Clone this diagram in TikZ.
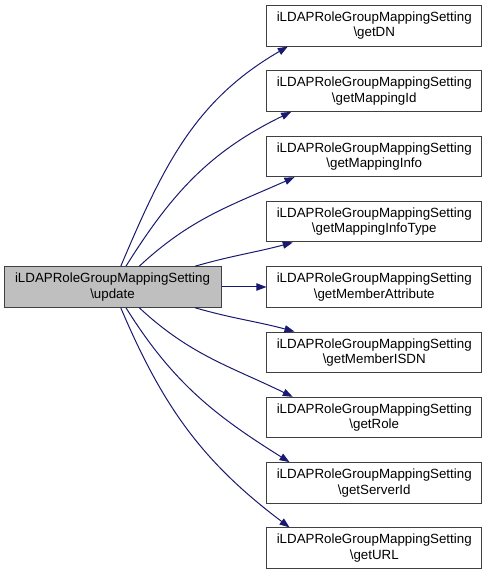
\documentclass[tikz,border=0pt]{standalone}
\usepackage{fontspec}
\setmainfont{Liberation Sans}
\usetikzlibrary{arrows.meta}
\definecolor{edgeblue}{HTML}{191970}
\definecolor{boxline}{HTML}{404040}
\definecolor{boxfill}{HTML}{BFBFBF}

\begin{document}
\begin{tikzpicture}[x=0.75pt, y=0.75pt, line width=0.75pt,
  fn/.style={draw=boxline, fill=white, minimum width=160.9pt, minimum height=30.4pt,
    inner sep=0pt, align=center, font=\fontsize{10}{11.5}\selectfont},
  call/.style={draw=edgeblue, -{Triangle[length=7.5pt,width=5.5pt,fill=edgeblue]}}]
\useasboundingbox (0,0) rectangle (488,575);
% caller
\node[fn, fill=boxfill, minimum width=162.75pt] (upd) at (112.5,288) {iLDAPRoleGroupMappingSetting\\\textbackslash update};
% callees
\node[fn] (dn)    at (374.25,549.2) {iLDAPRoleGroupMappingSetting\\\textbackslash getDN};
\node[fn] (mid)   at (374.25,483.9) {iLDAPRoleGroupMappingSetting\\\textbackslash getMappingId};
\node[fn] (minfo) at (374.25,418.6) {iLDAPRoleGroupMappingSetting\\\textbackslash getMappingInfo};
\node[fn] (mtype) at (374.25,353.3) {iLDAPRoleGroupMappingSetting\\\textbackslash getMappingInfoType};
\node[fn] (mattr) at (374.25,288.0) {iLDAPRoleGroupMappingSetting\\\textbackslash getMemberAttribute};
\node[fn] (misdn) at (374.25,222.7) {iLDAPRoleGroupMappingSetting\\\textbackslash getMemberISDN};
\node[fn] (role)  at (374.25,157.4) {iLDAPRoleGroupMappingSetting\\\textbackslash getRole};
\node[fn] (srv)   at (374.25,92.1)  {iLDAPRoleGroupMappingSetting\\\textbackslash getServerId};
\node[fn] (url)   at (374.25,26.8)  {iLDAPRoleGroupMappingSetting\\\textbackslash getURL};
% calls
\draw[call] ([xshift=6.2pt]upd.north) to[out=67,in=210] ([xshift=16pt]dn.south west);
\draw[call] ([xshift=10.1pt]upd.north) to[out=58,in=206] ([xshift=18.5pt]mid.south west);
\draw[call] ([xshift=20.1pt]upd.north) to[out=43,in=204] ([xshift=21pt]minfo.south west);
\draw[call] ([xshift=61.9pt]upd.north) to[out=16,in=195] ([xshift=19.7pt]mtype.south west);
\draw[call] (upd) -- (mattr);
\draw[call] ([xshift=61.9pt]upd.south) to[out=-16,in=165] ([xshift=21pt]misdn.north west);
\draw[call] ([xshift=20.1pt]upd.south) to[out=-43,in=154] ([xshift=19.7pt]role.north west);
\draw[call] ([xshift=10.1pt]upd.south) to[out=-58,in=148] ([xshift=17.3pt]srv.north west);
\draw[call] ([xshift=6.2pt]upd.south) to[out=-67,in=143] ([xshift=17.3pt]url.north west);
\end{tikzpicture}
\end{document}
